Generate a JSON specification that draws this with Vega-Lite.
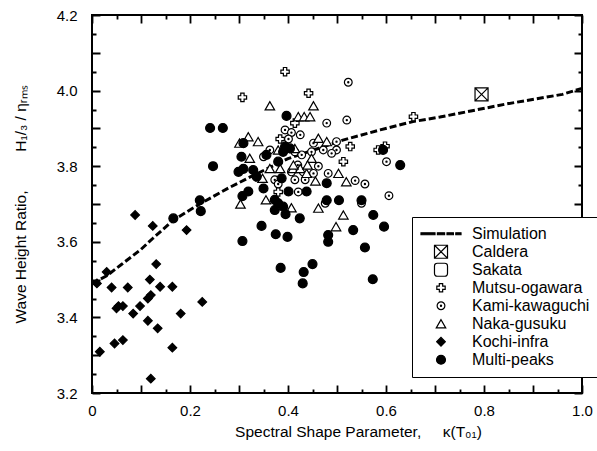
{
  "$schema": "https://vega.github.io/schema/vega-lite/v6.json",
  "width": 490,
  "height": 378,
  "autosize": "none",
  "padding": {"left": 92, "top": 15, "right": 15, "bottom": 58},
  "background": "white",
  "config": {
    "view": {"stroke": "black", "strokeWidth": 2},
    "font": "Liberation Sans",
    "axis": {
      "domain": false,
      "ticks": false,
      "tickSize": 0,
      "gridColor": "black",
      "gridOpacity": 1,
      "gridWidth": 1.8,
      "labelFont": "Liberation Sans",
      "labelFontSize": 15,
      "labelColor": "black",
      "titleFont": "Liberation Sans",
      "titleFontSize": 15.5,
      "titleFontWeight": "normal",
      "titleColor": "black"
    },
    "legend": {
      "labelFont": "Liberation Sans",
      "labelFontSize": 16,
      "labelColor": "black"
    }
  },
  "datasets": {
    "sim": [
      {"k": 0, "r": 3.49}, {"k": 0.03, "r": 3.51}, {"k": 0.06, "r": 3.54}, {"k": 0.1, "r": 3.58},
      {"k": 0.125, "r": 3.61}, {"k": 0.166, "r": 3.657}, {"k": 0.216, "r": 3.697}, {"k": 0.278, "r": 3.742},
      {"k": 0.322, "r": 3.771}, {"k": 0.4, "r": 3.82}, {"k": 0.512, "r": 3.869}, {"k": 0.588, "r": 3.896},
      {"k": 0.655, "r": 3.918}, {"k": 0.71, "r": 3.93}, {"k": 0.847, "r": 3.965}, {"k": 0.96, "r": 3.99},
      {"k": 1.0, "r": 4.006}
    ],
    "pts": [
      {"s": "Caldera", "k": 0.795, "r": 3.99},
      {"s": "Mutsu-ogawara", "k": 0.307, "r": 3.982},
      {"s": "Mutsu-ogawara", "k": 0.394, "r": 4.05},
      {"s": "Mutsu-ogawara", "k": 0.442, "r": 3.993},
      {"s": "Mutsu-ogawara", "k": 0.414, "r": 3.914},
      {"s": "Mutsu-ogawara", "k": 0.384, "r": 3.872},
      {"s": "Mutsu-ogawara", "k": 0.527, "r": 3.852},
      {"s": "Mutsu-ogawara", "k": 0.513, "r": 3.812},
      {"s": "Mutsu-ogawara", "k": 0.584, "r": 3.843},
      {"s": "Mutsu-ogawara", "k": 0.598, "r": 3.853},
      {"s": "Mutsu-ogawara", "k": 0.656, "r": 3.931},
      {"s": "Mutsu-ogawara", "k": 0.38, "r": 3.732},
      {"s": "Kami-kawaguchi", "k": 0.523, "r": 4.022},
      {"s": "Kami-kawaguchi", "k": 0.52, "r": 3.922},
      {"s": "Kami-kawaguchi", "k": 0.479, "r": 3.914},
      {"s": "Kami-kawaguchi", "k": 0.394, "r": 3.896},
      {"s": "Kami-kawaguchi", "k": 0.407, "r": 3.889},
      {"s": "Kami-kawaguchi", "k": 0.425, "r": 3.883},
      {"s": "Kami-kawaguchi", "k": 0.401, "r": 3.872},
      {"s": "Kami-kawaguchi", "k": 0.452, "r": 3.861},
      {"s": "Kami-kawaguchi", "k": 0.363, "r": 3.843},
      {"s": "Kami-kawaguchi", "k": 0.35, "r": 3.825},
      {"s": "Kami-kawaguchi", "k": 0.414, "r": 3.838},
      {"s": "Kami-kawaguchi", "k": 0.428, "r": 3.83},
      {"s": "Kami-kawaguchi", "k": 0.448, "r": 3.838},
      {"s": "Kami-kawaguchi", "k": 0.472, "r": 3.843},
      {"s": "Kami-kawaguchi", "k": 0.462, "r": 3.8},
      {"s": "Kami-kawaguchi", "k": 0.499, "r": 3.865},
      {"s": "Kami-kawaguchi", "k": 0.499, "r": 3.843},
      {"s": "Kami-kawaguchi", "k": 0.489, "r": 3.834},
      {"s": "Kami-kawaguchi", "k": 0.601, "r": 3.812},
      {"s": "Kami-kawaguchi", "k": 0.606, "r": 3.722},
      {"s": "Kami-kawaguchi", "k": 0.476, "r": 3.702},
      {"s": "Kami-kawaguchi", "k": 0.55, "r": 3.702},
      {"s": "Kami-kawaguchi", "k": 0.537, "r": 3.762},
      {"s": "Kami-kawaguchi", "k": 0.557, "r": 3.753},
      {"s": "Kami-kawaguchi", "k": 0.482, "r": 3.781},
      {"s": "Kami-kawaguchi", "k": 0.435, "r": 3.764},
      {"s": "Kami-kawaguchi", "k": 0.414, "r": 3.764},
      {"s": "Kami-kawaguchi", "k": 0.452, "r": 3.781},
      {"s": "Kami-kawaguchi", "k": 0.431, "r": 3.785},
      {"s": "Kami-kawaguchi", "k": 0.407, "r": 3.785},
      {"s": "Kami-kawaguchi", "k": 0.42, "r": 3.803},
      {"s": "Kami-kawaguchi", "k": 0.421, "r": 3.732},
      {"s": "Kami-kawaguchi", "k": 0.373, "r": 3.764},
      {"s": "Kami-kawaguchi", "k": 0.38, "r": 3.753},
      {"s": "Naka-gusuku", "k": 0.363, "r": 3.96},
      {"s": "Naka-gusuku", "k": 0.452, "r": 3.96},
      {"s": "Naka-gusuku", "k": 0.421, "r": 3.931},
      {"s": "Naka-gusuku", "k": 0.433, "r": 3.931},
      {"s": "Naka-gusuku", "k": 0.445, "r": 3.931},
      {"s": "Naka-gusuku", "k": 0.319, "r": 3.878},
      {"s": "Naka-gusuku", "k": 0.339, "r": 3.865},
      {"s": "Naka-gusuku", "k": 0.301, "r": 3.861},
      {"s": "Naka-gusuku", "k": 0.462, "r": 3.874},
      {"s": "Naka-gusuku", "k": 0.479, "r": 3.865},
      {"s": "Naka-gusuku", "k": 0.38, "r": 3.843},
      {"s": "Naka-gusuku", "k": 0.414, "r": 3.847},
      {"s": "Naka-gusuku", "k": 0.448, "r": 3.821},
      {"s": "Naka-gusuku", "k": 0.322, "r": 3.821},
      {"s": "Naka-gusuku", "k": 0.363, "r": 3.794},
      {"s": "Naka-gusuku", "k": 0.384, "r": 3.794},
      {"s": "Naka-gusuku", "k": 0.41, "r": 3.794},
      {"s": "Naka-gusuku", "k": 0.425, "r": 3.794},
      {"s": "Naka-gusuku", "k": 0.513, "r": 3.671},
      {"s": "Naka-gusuku", "k": 0.498, "r": 3.64},
      {"s": "Naka-gusuku", "k": 0.462, "r": 3.689},
      {"s": "Naka-gusuku", "k": 0.503, "r": 3.781},
      {"s": "Naka-gusuku", "k": 0.519, "r": 3.759},
      {"s": "Naka-gusuku", "k": 0.456, "r": 3.761},
      {"s": "Naka-gusuku", "k": 0.438, "r": 3.781},
      {"s": "Naka-gusuku", "k": 0.411, "r": 3.803},
      {"s": "Naka-gusuku", "k": 0.44, "r": 3.803},
      {"s": "Naka-gusuku", "k": 0.407, "r": 3.69},
      {"s": "Naka-gusuku", "k": 0.348, "r": 3.768},
      {"s": "Naka-gusuku", "k": 0.303, "r": 3.7},
      {"s": "Naka-gusuku", "k": 0.355, "r": 3.711},
      {"s": "Kochi-infra", "k": 0.01, "r": 3.49},
      {"s": "Kochi-infra", "k": 0.016, "r": 3.309},
      {"s": "Kochi-infra", "k": 0.03, "r": 3.52},
      {"s": "Kochi-infra", "k": 0.04, "r": 3.479},
      {"s": "Kochi-infra", "k": 0.046, "r": 3.331},
      {"s": "Kochi-infra", "k": 0.05, "r": 3.424},
      {"s": "Kochi-infra", "k": 0.054, "r": 3.43},
      {"s": "Kochi-infra", "k": 0.063, "r": 3.43},
      {"s": "Kochi-infra", "k": 0.063, "r": 3.34},
      {"s": "Kochi-infra", "k": 0.073, "r": 3.479},
      {"s": "Kochi-infra", "k": 0.084, "r": 3.41},
      {"s": "Kochi-infra", "k": 0.088, "r": 3.671},
      {"s": "Kochi-infra", "k": 0.098, "r": 3.43},
      {"s": "Kochi-infra", "k": 0.114, "r": 3.391},
      {"s": "Kochi-infra", "k": 0.114, "r": 3.45},
      {"s": "Kochi-infra", "k": 0.12, "r": 3.459},
      {"s": "Kochi-infra", "k": 0.12, "r": 3.238},
      {"s": "Kochi-infra", "k": 0.118, "r": 3.5},
      {"s": "Kochi-infra", "k": 0.124, "r": 3.642},
      {"s": "Kochi-infra", "k": 0.131, "r": 3.541},
      {"s": "Kochi-infra", "k": 0.134, "r": 3.371},
      {"s": "Kochi-infra", "k": 0.139, "r": 3.481},
      {"s": "Kochi-infra", "k": 0.164, "r": 3.481},
      {"s": "Kochi-infra", "k": 0.164, "r": 3.32},
      {"s": "Kochi-infra", "k": 0.181, "r": 3.41},
      {"s": "Kochi-infra", "k": 0.193, "r": 3.631},
      {"s": "Kochi-infra", "k": 0.225, "r": 3.441},
      {"s": "Multi-peaks", "k": 0.166, "r": 3.662},
      {"s": "Multi-peaks", "k": 0.222, "r": 3.681},
      {"s": "Multi-peaks", "k": 0.22, "r": 3.71},
      {"s": "Multi-peaks", "k": 0.307, "r": 3.602},
      {"s": "Multi-peaks", "k": 0.241, "r": 3.901},
      {"s": "Multi-peaks", "k": 0.267, "r": 3.901},
      {"s": "Multi-peaks", "k": 0.247, "r": 3.8},
      {"s": "Multi-peaks", "k": 0.299, "r": 3.785},
      {"s": "Multi-peaks", "k": 0.309, "r": 3.793},
      {"s": "Multi-peaks", "k": 0.329, "r": 3.79},
      {"s": "Multi-peaks", "k": 0.336, "r": 3.772},
      {"s": "Multi-peaks", "k": 0.319, "r": 3.733},
      {"s": "Multi-peaks", "k": 0.307, "r": 3.721},
      {"s": "Multi-peaks", "k": 0.35, "r": 3.741},
      {"s": "Multi-peaks", "k": 0.387, "r": 3.768},
      {"s": "Multi-peaks", "k": 0.401, "r": 3.733},
      {"s": "Multi-peaks", "k": 0.438, "r": 3.733},
      {"s": "Multi-peaks", "k": 0.373, "r": 3.711},
      {"s": "Multi-peaks", "k": 0.38, "r": 3.702},
      {"s": "Multi-peaks", "k": 0.39, "r": 3.693},
      {"s": "Multi-peaks", "k": 0.373, "r": 3.684},
      {"s": "Multi-peaks", "k": 0.395, "r": 3.673},
      {"s": "Multi-peaks", "k": 0.424, "r": 3.662},
      {"s": "Multi-peaks", "k": 0.346, "r": 3.642},
      {"s": "Multi-peaks", "k": 0.375, "r": 3.62},
      {"s": "Multi-peaks", "k": 0.399, "r": 3.613},
      {"s": "Multi-peaks", "k": 0.385, "r": 3.531},
      {"s": "Multi-peaks", "k": 0.45, "r": 3.541},
      {"s": "Multi-peaks", "k": 0.432, "r": 3.52},
      {"s": "Multi-peaks", "k": 0.43, "r": 3.49},
      {"s": "Multi-peaks", "k": 0.482, "r": 3.618},
      {"s": "Multi-peaks", "k": 0.482, "r": 3.6},
      {"s": "Multi-peaks", "k": 0.479, "r": 3.755},
      {"s": "Multi-peaks", "k": 0.397, "r": 3.933},
      {"s": "Multi-peaks", "k": 0.394, "r": 3.852},
      {"s": "Multi-peaks", "k": 0.404, "r": 3.847},
      {"s": "Multi-peaks", "k": 0.39, "r": 3.838},
      {"s": "Multi-peaks", "k": 0.356, "r": 3.83},
      {"s": "Multi-peaks", "k": 0.305, "r": 3.825},
      {"s": "Multi-peaks", "k": 0.309, "r": 3.861},
      {"s": "Multi-peaks", "k": 0.38, "r": 3.812},
      {"s": "Multi-peaks", "k": 0.594, "r": 3.843},
      {"s": "Multi-peaks", "k": 0.629, "r": 3.803},
      {"s": "Multi-peaks", "k": 0.574, "r": 3.671},
      {"s": "Multi-peaks", "k": 0.596, "r": 3.64},
      {"s": "Multi-peaks", "k": 0.533, "r": 3.631},
      {"s": "Multi-peaks", "k": 0.557, "r": 3.585},
      {"s": "Multi-peaks", "k": 0.573, "r": 3.501},
      {"s": "Multi-peaks", "k": 0.479, "r": 3.71},
      {"s": "Multi-peaks", "k": 0.504, "r": 3.71},
      {"s": "Multi-peaks", "k": 0.55, "r": 3.71}
    ]
  },
  "layer": [
    {
      "data": {"name": "sim"},
      "mark": {"type": "line", "color": "black", "strokeWidth": 3, "strokeDash": [7, 3]},
      "encoding": {
        "x": {
          "field": "k", "type": "quantitative",
          "scale": {"domain": [0, 1], "nice": false, "zero": false},
          "axis": {
            "orient": "bottom",
            "values": [0, 0.1, 0.2, 0.3, 0.4, 0.5, 0.6, 0.7, 0.8, 0.9, 1.0],
            "grid": true,
            "gridDash": [8, 362],
            "labelExpr": "round(datum.value*10) % 2 == 0 ? (datum.value == 0 ? '0' : format(datum.value, '.1f')) : ''",
            "labelPadding": 10,
            "labelFlush": false,
            "labelOverlap": false,
            "title": "Spectral Shape Parameter,\u00a0\u00a0\u00a0\u00a0\u00a0κ(T₀₁)",
            "titleX": 266,
            "titleY": 38,
            "titleBaseline": "middle"
          }
        },
        "y": {
          "field": "r", "type": "quantitative",
          "scale": {"domain": [3.2, 4.2], "nice": false, "zero": false},
          "axis": {
            "orient": "left",
            "values": [3.2, 3.3, 3.4, 3.5, 3.6, 3.7, 3.8, 3.9, 4.0, 4.1, 4.2],
            "grid": true,
            "gridDash": [8, 474],
            "labelExpr": "round(datum.value*10) % 2 == 0 ? format(datum.value, '.1f') : ''",
            "labelPadding": 15,
            "labelFlush": false,
            "labelOverlap": false,
            "title": "Wave Height Ratio,\u00a0\u00a0\u00a0\u00a0\u00a0\u00a0\u00a0\u00a0\u00a0H₁/₃ / ηᵣₘₛ",
            "titleX": -72,
            "titleY": 189,
            "titleBaseline": "middle"
          }
        }
      }
    },
    {
      "data": {"name": "pts"},
      "mark": {"type": "point", "filled": false, "stroke": "black", "strokeWidth": 1.2, "opacity": 1},
      "encoding": {
        "x": {
          "field": "k", "type": "quantitative",
          "axis": {
            "orient": "top",
            "values": [0.05, 0.15, 0.25, 0.35, 0.45, 0.55, 0.65, 0.75, 0.85, 0.95],
            "grid": true,
            "gridDash": [4, 370],
            "labels": false,
            "title": null
          }
        },
        "y": {
          "field": "r", "type": "quantitative",
          "axis": {
            "orient": "right",
            "values": [3.25, 3.35, 3.45, 3.55, 3.65, 3.75, 3.85, 3.95, 4.05, 4.15],
            "grid": true,
            "gridDash": [4, 482],
            "labels": false,
            "title": null
          }
        },
        "shape": {
          "field": "s", "type": "nominal",
          "scale": {
            "domain": ["Simulation", "Caldera", "Sakata", "Mutsu-ogawara", "Kami-kawaguchi", "Naka-gusuku", "Kochi-infra", "Multi-peaks"],
            "range": [
              "M-1,-0.05H-0.3V0.05H-1Z M-0.18,-0.05H0.18V0.05H-0.18Z M0.3,-0.05H0.62V0.05H0.3Z M0.74,-0.05H1V0.05H0.74Z",
              "M-1,-1H1V1H-1Z M-1,-1L1,1 M1,-1L-1,1",
              "M-0.55,-1H0.55Q1,-1 1,-0.55V0.55Q1,1 0.55,1H-0.55Q-1,1 -1,0.55V-0.55Q-1,-1 -0.55,-1Z",
              "cross",
              "M-1,0A1,1 0 1,1 1,0A1,1 0 1,1 -1,0Z M-0.15,0A0.15,0.15 0 1,1 0.15,0A0.15,0.15 0 1,1 -0.15,0Z",
              "triangle-up",
              "diamond",
              "circle"
            ]
          },
          "legend": {
            "title": null,
            "orient": "none",
            "legendX": 320,
            "legendY": 202,
            "padding": 8,
            "clipHeight": 17.5,
            "rowPadding": 0,
            "labelOffset": 10,
            "strokeColor": "black",
            "fillColor": "white",
            "symbolStrokeWidth": 1.2,
            "symbolStrokeColor": "black"
          }
        },
        "fill": {
          "field": "s", "type": "nominal",
          "scale": {
            "domain": ["Simulation", "Caldera", "Sakata", "Mutsu-ogawara", "Kami-kawaguchi", "Naka-gusuku", "Kochi-infra", "Multi-peaks"],
            "range": ["black", "white", "white", "white", "white", "white", "black", "black"]
          },
          "legend": {"title": null}
        },
        "size": {
          "field": "s", "type": "nominal",
          "scale": {
            "type": "ordinal",
            "domain": ["Simulation", "Caldera", "Sakata", "Mutsu-ogawara", "Kami-kawaguchi", "Naka-gusuku", "Kochi-infra", "Multi-peaks"],
            "range": [1600, 170, 170, 70, 60, 90, 75, 80]
          },
          "legend": {"title": null}
        }
      }
    }
  ],
  "resolve": {"axis": {"x": "independent", "y": "independent"}}
}
